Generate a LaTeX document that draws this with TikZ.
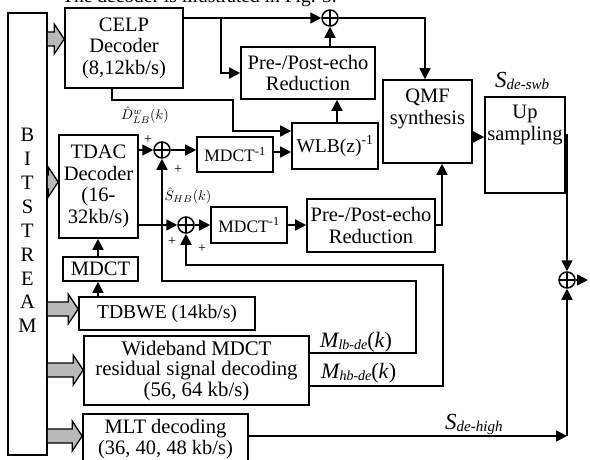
\documentclass[tikz,border=0pt]{standalone}
\usepackage{fontspec}
\setmainfont{Liberation Serif}
\usetikzlibrary{arrows.meta,calc}
\tikzset{
  box/.style={draw, line width=1.6pt, inner sep=0pt, align=center,
    font=\fontsize{20.5}{21.5}\selectfont},
  txt/.style={inner sep=0pt, align=center, font=\fontsize{20.5}{21.5}\selectfont},
  adder/.style={circle, draw, line width=1.5pt, minimum size=16pt, inner sep=0pt,
    path picture={\draw[line width=1.2pt] (path picture bounding box.north) -- (path picture bounding box.south)
      (path picture bounding box.west) -- (path picture bounding box.east);}},
  conn/.style={line width=1.6pt, -{Triangle[length=11pt,width=11pt]}},
  garr/.style={draw=black, fill=gray!55, line width=1.3pt, line join=miter},
  pl/.style={inner sep=0pt, font=\fontsize{14}{14}\selectfont},
  lab/.style={inner sep=0pt},
}
\newcommand\grayarr[2]{%
  \draw[garr] ($(bits.east |- 0,#2)+(0,-7)$) -- ($(#1.west |- 0,#2)+(-10,-7)$)
    -- ($(#1.west |- 0,#2)+(-10,-15)$) -- (#1.west |- 0,#2)
    -- ($(#1.west |- 0,#2)+(-10,15)$) -- ($(#1.west |- 0,#2)+(-10,7)$)
    -- ($(bits.east |- 0,#2)+(0,7)$);}
\newcommand\bigit[1]{{\fontsize{22}{22}\selectfont\itshape #1}}
\newcommand\subit[1]{\raisebox{-2.5pt}{\fontsize{14}{14}\selectfont\itshape #1}}
\begin{document}
\begin{tikzpicture}[x=1pt,y=-1pt]
\useasboundingbox (0,0) rectangle (590,459);

% clipped caption line at the very top
\node[lab, anchor=base west, font=\fontsize{19.5}{20}\selectfont] (cap) at (62,2.5) {The decoder is illustrated in Fig. 5.};

% boxes
\node[box, minimum width=39pt, minimum height=442pt] (bits) at (27.5,234) {};
\node[txt, font=\fontsize{20.5}{23.9}\selectfont] (bitstxt) at (27.5,230.5) {B\\I\\T\\S\\T\\R\\E\\A\\M};
\node[box, minimum width=118pt, minimum height=80pt] (celp) at (124,48) {CELP\\Decoder\\(8,12kb/s)};
\node[box, minimum width=134pt, minimum height=52pt] (pre1) at (308,73) {Pre-/Post-echo\\Reduction};
\node[box, minimum width=89pt, minimum height=83pt] (qmf) at (427.5,121.5) {};
\node[txt] (qmftxt) at (427.5,109) {QMF\\synthesis};
\node[box, minimum width=80pt, minimum height=96pt] (up) at (525,145) {};
\node[txt] (uptxt) at (525,125) {Up\\sampling};
\node[box, minimum width=79pt, minimum height=103pt] (tdac) at (98.5,186.5) {TDAC\\Decoder\\(16-\\32kb/s)};
\node[box, minimum width=75pt, minimum height=24pt] (mdct) at (100.5,269) {MDCT};
\node[box, minimum width=176pt, minimum height=33pt, font=\fontsize{19.6}{21}\selectfont] (tdbwe) at (167,313.5) {TDBWE (14kb/s)};
\node[box, minimum width=225pt, minimum height=69pt, font=\fontsize{20.8}{20.5}\selectfont] (wb) at (196.5,370.5) {Wideband MDCT\\residual signal decoding\\(56, 64 kb/s)};
\node[box, minimum width=165pt, minimum height=50pt] (mlt) at (165.5,439) {MLT decoding\\(36, 40, 48 kb/s)};
\node[box, minimum width=76pt, minimum height=35pt, font=\fontsize{17.5}{18}\selectfont] (imdct1) at (235,154.5) {MDCT\textsuperscript{-1}};
\node[box, minimum width=86pt, minimum height=46pt, font=\fontsize{19.5}{20}\selectfont] (wlb) at (335,146) {WLB(z)\textsuperscript{-1}};
\node[box, minimum width=76pt, minimum height=36pt, font=\fontsize{17.5}{18}\selectfont] (imdct2) at (249,225) {MDCT\textsuperscript{-1}};
\node[box, minimum width=128pt, minimum height=53pt] (pre2) at (371,225.5) {Pre-/Post-echo\\Reduction};

% adders
\node[adder] (add0) at (330,18) {};
\node[adder] (add1) at (162,150) {};
\node[adder] (add2) at (186,225) {};
\node[adder] (add3) at (567,280) {};

% gray block arrows from the bitstream
\grayarr{celp}{39}
\grayarr{tdac}{182}
\grayarr{tdbwe}{309}
\grayarr{wb}{370}
\grayarr{mlt}{436}

% connectors
\coordinate (br1) at (221,18);
\coordinate (out) at (588,280);
\coordinate (cr) at (567,436);
\draw[conn] (celp.east |- add0) -- (add0);
\draw[conn] (br1) |- (pre1.west);
\draw[conn] (pre1.north -| add0) -- (add0);
\draw[conn] (add0) -| (qmf.north -| 425,0);
\draw[conn] (qmf.east |- 0,137) -- (up.west |- 0,137);
\draw[conn] (up.east |- 0,135) -| (add3);
\draw[conn] (mlt.east |- cr) -- (cr);
\draw[conn] (cr) -- (add3);
\draw[conn] (add3) -- (out);
\draw[conn] (celp.south -| 112,0) |- (233,100) |- (wlb.west |- 0,131);
\draw[conn] (tdac.east |- add1) -- (add1);
\draw[conn] (add1) -- (add1 -| imdct1.west);
\draw[conn] (imdct1.east |- 0,152) -- (wlb.west |- 0,152);
\draw[conn] (wlb.north -| 337,0) -- (pre1.south -| 337,0);
\draw[conn] (tdac.east |- add2) -- (add2);
\draw[conn] (add2) -- (add2 -| imdct2.west);
\draw[conn] (imdct2.east |- 0,225) -- (pre2.west |- 0,225);
\draw[conn] (pre2.east |- 0,225) -| (qmf.south -| 442,0);
\draw[conn] (mdct.north -| 98,0) -- (tdac.south -| 98,0);
\draw[conn] (tdbwe.north -| 98,0) -- (mdct.south -| 98,0);
\draw[conn] (wb.east |- 0,353) -| (416,281) -| (add1);
\draw[conn] (wb.east |- 0,386) -| (443,265) -| (add2);

% plus signs
\node[pl] (p1a) at (148,140) {+};
\node[pl] (p1b) at (178,170) {+};
\node[pl] (p2a) at (172,242) {+};
\node[pl] (p2b) at (202,249) {+};

% signal labels
\node[lab] (dlb) at (145,115) {\scalebox{1.4}{$\hat{D}^{w}_{LB}(k)$}};
\node[lab] (shb) at (188,196) {\scalebox{1.4}{$\hat{S}_{HB}(k)$}};
\node[lab, anchor=base west] (mlb) at (320,347) {\bigit{M}\subit{lb-de}{\fontsize{22}{22}\selectfont(\textit{k})}};
\node[lab, anchor=base west] (mhb) at (321,378) {\bigit{M}\subit{hb-de}{\fontsize{22}{22}\selectfont(\textit{k})}};
\node[lab, anchor=base west] (sswb) at (495,87) {{\fontsize{23}{23}\selectfont\itshape S}\raisebox{-2pt}{\fontsize{15}{15}\selectfont\itshape de-swb}};
\node[lab, anchor=base west] (shigh) at (445,429) {{\fontsize{23}{23}\selectfont\itshape S}\raisebox{-2pt}{\fontsize{15}{15}\selectfont\itshape de-high}};
\end{tikzpicture}
\end{document}
